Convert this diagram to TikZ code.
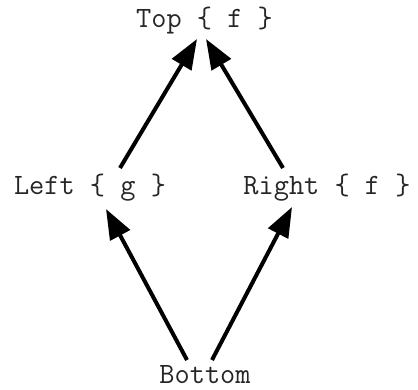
\documentclass[tikz,border=0pt]{standalone}
\usepackage{fontspec}
\usetikzlibrary{arrows.meta}
\tikzset{
  lbl/.style={inner sep=0pt, outer sep=0pt, anchor=base, font=\ttfamily\fontsize{29.5}{34}\selectfont, text=black!85},
  arr/.style={line width=4pt, -{Triangle[length=30pt,width=22pt]}, black}
}
\begin{document}
\begin{tikzpicture}[x=1pt,y=-1pt]
\useasboundingbox (0,0) rectangle (418,390);
\node[lbl] (Top) at (204.5,28) {Top \{ f \}};
\node[lbl] (Left) at (90,195) {Left \{ g \}};
\node[lbl] (Right) at (327,195) {Right \{ f \}};
\node[lbl] (Bottom) at (205,383.5) {Bottom};
\draw[arr] ([shift={(30,-27)}]Left.base) -- ([shift={(-7.5,11)}]Top.base);
\draw[arr] ([shift={(-44,-27)}]Right.base) -- ([shift={(1.5,11)}]Top.base);
\draw[arr] ([shift={(-18,-23.5)}]Bottom.base) -- ([shift={(16,14)}]Left.base);
\draw[arr] ([shift={(7,-23.5)}]Bottom.base) -- ([shift={(-35,12)}]Right.base);
\end{tikzpicture}
\end{document}
